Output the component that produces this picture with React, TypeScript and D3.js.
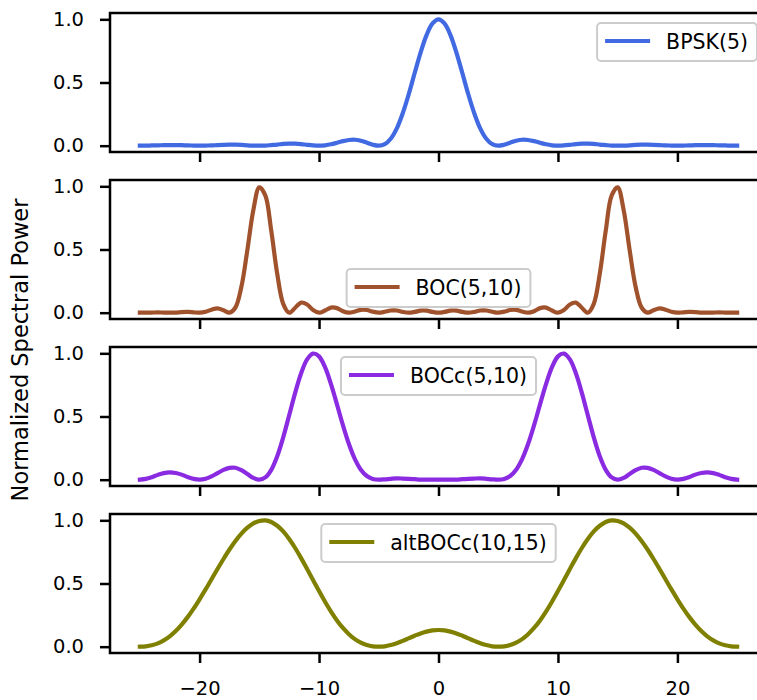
import React, { useEffect, useRef } from 'react';
import * as d3 from 'd3';

const WIDTH = 757;
const HEIGHT = 700;
const FONT = "'DejaVu Sans', sans-serif";

// Frequency offset grid: -25 .. 25 in steps of 0.5
const freqs: number[] = d3.range(-50, 51).map((k) => k / 2);

// Normalized power spectral densities sampled on the grid above
const bpsk5 = [
  0, 0, 0.002, 0.003, 0.004, 0.005, 0.005, 0.004, 0.002, 0.001,
  0, 0.001, 0.002, 0.005, 0.007, 0.008, 0.008, 0.006, 0.003, 0.001,
  0, 0.001, 0.005, 0.009, 0.014, 0.016, 0.016, 0.013, 0.007, 0.002,
  0, 0.003, 0.011, 0.023, 0.036, 0.045, 0.047, 0.039, 0.024, 0.008,
  0, 0.012, 0.055, 0.135, 0.255, 0.405, 0.573, 0.737, 0.875, 0.967,
  1,
  0.967, 0.875, 0.737, 0.573, 0.405, 0.255, 0.135, 0.055, 0.012, 0,
  0.008, 0.024, 0.039, 0.047, 0.045, 0.036, 0.023, 0.011, 0.003, 0,
  0.002, 0.007, 0.013, 0.016, 0.016, 0.014, 0.009, 0.005, 0.001, 0,
  0.001, 0.003, 0.006, 0.008, 0.008, 0.007, 0.005, 0.002, 0.001, 0,
  0.001, 0.002, 0.004, 0.005, 0.005, 0.004, 0.003, 0.002, 0, 0,
];

const boc510 = [
  0, 0, 0.001, 0.002, 0.001, 0, 0.001, 0.005, 0.006, 0.003,
  0, 0.007, 0.024, 0.034, 0.019, 0, 0.041, 0.205, 0.496, 0.812,
  0.992, 0.928, 0.648, 0.307, 0.07, 0, 0.039, 0.08, 0.065, 0.021,
  0, 0.017, 0.04, 0.036, 0.012, 0, 0.009, 0.022, 0.021, 0.008,
  0, 0.007, 0.017, 0.017, 0.006, 0, 0.006, 0.016, 0.016, 0.006,
  0,
  0.006, 0.016, 0.016, 0.006, 0, 0.006, 0.017, 0.017, 0.007, 0,
  0.008, 0.021, 0.022, 0.009, 0, 0.012, 0.036, 0.04, 0.017, 0,
  0.021, 0.065, 0.08, 0.039, 0, 0.07, 0.307, 0.648, 0.928, 0.992,
  0.812, 0.496, 0.205, 0.041, 0, 0.019, 0.034, 0.024, 0.007, 0,
  0.003, 0.006, 0.005, 0.001, 0, 0.001, 0.002, 0.001, 0, 0,
];

const bocc510 = [
  0, 0.006, 0.02, 0.038, 0.052, 0.058, 0.053, 0.04, 0.021, 0.006,
  0, 0.007, 0.026, 0.052, 0.078, 0.094, 0.094, 0.075, 0.045, 0.014,
  0, 0.018, 0.078, 0.186, 0.335, 0.51, 0.687, 0.842, 0.952, 0.998,
  0.976, 0.89, 0.756, 0.596, 0.431, 0.282, 0.163, 0.079, 0.029, 0.006,
  0, 0.003, 0.007, 0.01, 0.009, 0.007, 0.004, 0.001, 0, 0,
  0,
  0, 0, 0.001, 0.004, 0.007, 0.009, 0.01, 0.007, 0.003, 0,
  0.006, 0.029, 0.079, 0.163, 0.282, 0.431, 0.596, 0.756, 0.89, 0.976,
  0.998, 0.952, 0.842, 0.687, 0.51, 0.335, 0.186, 0.078, 0.018, 0,
  0.014, 0.045, 0.075, 0.094, 0.094, 0.078, 0.052, 0.026, 0.007, 0,
  0.006, 0.021, 0.04, 0.053, 0.058, 0.052, 0.038, 0.02, 0.006, 0,
];

const altbocc1015 = [
  0, 0.003, 0.011, 0.026, 0.05, 0.082, 0.124, 0.175, 0.234, 0.301,
  0.375, 0.453, 0.534, 0.615, 0.694, 0.769, 0.837, 0.895, 0.942, 0.976,
  0.995, 1.0, 0.987, 0.957, 0.912, 0.852, 0.781, 0.701, 0.615, 0.527,
  0.44, 0.356, 0.278, 0.208, 0.148, 0.099, 0.06, 0.032, 0.013, 0.003,
  0, 0.003, 0.013, 0.027, 0.046, 0.066, 0.086, 0.105, 0.119, 0.129,
  0.132,
  0.129, 0.119, 0.105, 0.086, 0.066, 0.046, 0.027, 0.013, 0.003, 0,
  0.003, 0.013, 0.032, 0.06, 0.099, 0.148, 0.208, 0.278, 0.356, 0.44,
  0.527, 0.615, 0.701, 0.781, 0.852, 0.912, 0.957, 0.987, 1.0, 0.995,
  0.976, 0.942, 0.895, 0.837, 0.769, 0.694, 0.615, 0.534, 0.453, 0.375,
  0.301, 0.234, 0.175, 0.124, 0.082, 0.05, 0.026, 0.011, 0.003, 0,
];

const seriesValues = [bpsk5, boc510, bocc510, altbocc1015];
const seriesNames = ['BPSK(5)', 'BOC(5,10)', 'BOCc(5,10)', 'altBOCc(10,15)'];
const seriesColors = ['#4169e1', '#a0522d', '#8a2be2', '#808000'];
const legendLocs = ['upper right', 'lower center', 'upper center', 'upper center'];
const xTicks = [-20, -10, 0, 10, 20];
const yTicks = [0, 0.5, 1.0];
const yAxisTitle = 'Normalized Spectral Power';

// Panel geometry
const AX_LEFT = 110;
const AX_RIGHT = 767;
const PANEL_TOP = 13;
const PANEL_STEP = 167;
const PANEL_H = 139;
const TICK_LEN = 10;
const SPINE_W = 2.5;

export default function App() {
  const ref = useRef<SVGSVGElement | null>(null);

  useEffect(() => {
    const svg = d3.select(ref.current);
    svg.selectAll('*').remove();

    const x = d3.scaleLinear().domain([-27.5, 27.5]).range([AX_LEFT, AX_RIGHT]);

    seriesValues.forEach((vals, i) => {
      const top = PANEL_TOP + i * PANEL_STEP;
      const bottom = top + PANEL_H;
      const y = d3.scaleLinear().domain([-0.05, 1.05]).range([bottom, top]);
      const g = svg.append('g');

      const line = d3
        .line<number>()
        .x((_, j) => x(freqs[j]))
        .y((v) => y(v))
        .curve(d3.curveCatmullRom.alpha(0.5));

      g.append('path')
        .attr('d', line(vals) || '')
        .attr('fill', 'none')
        .attr('stroke', seriesColors[i])
        .attr('stroke-width', 4.2)
        .attr('stroke-linecap', 'square')
        .attr('stroke-linejoin', 'round');

      // x axis (labels only on the last panel)
      const isLast = i === seriesValues.length - 1;
      const xAxis = d3
        .axisBottom(x)
        .tickValues(xTicks)
        .tickSize(TICK_LEN)
        .tickPadding(18)
        .tickFormat((d) => (isLast ? d3.format('d')(d as number) : ''));
      const gx = g.append('g').attr('transform', `translate(0,${bottom})`).call(xAxis);
      gx.select('.domain').remove();
      gx.selectAll('.tick line').attr('stroke', '#000').attr('stroke-width', SPINE_W);
      gx.selectAll('.tick text')
        .attr('fill', '#000')
        .attr('font-family', FONT)
        .attr('font-size', 19.5);

      // y axis
      const yAxis = d3
        .axisLeft(y)
        .tickValues(yTicks)
        .tickSize(TICK_LEN)
        .tickPadding(16)
        .tickFormat((d) => d3.format('.1f')(d as number));
      const gy = g.append('g').attr('transform', `translate(${AX_LEFT},0)`).call(yAxis);
      gy.select('.domain').remove();
      gy.selectAll('.tick line').attr('stroke', '#000').attr('stroke-width', SPINE_W);
      gy.selectAll('.tick text')
        .attr('fill', '#000')
        .attr('font-family', FONT)
        .attr('font-size', 19.5);

      // spines
      g.append('rect')
        .attr('x', AX_LEFT)
        .attr('y', top)
        .attr('width', AX_RIGHT - AX_LEFT)
        .attr('height', PANEL_H)
        .attr('fill', 'none')
        .attr('stroke', '#000')
        .attr('stroke-width', SPINE_W);

      // legend
      const lg = g.append('g');
      const box = lg.append('rect');
      const label = lg
        .append('text')
        .text(seriesNames[i])
        .attr('font-family', FONT)
        .attr('font-size', 20.5)
        .attr('fill', '#000');
      const tw = (label.node() as SVGTextElement).getComputedTextLength();
      const bw = 8 + 45 + 16 + tw + 9;
      const bh = 38;
      const cx = (AX_LEFT + AX_RIGHT) / 2;
      let bx = cx - bw / 2;
      let by = top + 10;
      if (legendLocs[i] === 'upper right') bx = AX_RIGHT - 10 - bw;
      if (legendLocs[i] === 'lower center') by = bottom - 12 - bh;
      box
        .attr('x', bx)
        .attr('y', by)
        .attr('width', bw)
        .attr('height', bh)
        .attr('rx', 4)
        .attr('fill', '#fff')
        .attr('fill-opacity', 0.8)
        .attr('stroke', '#cccccc')
        .attr('stroke-width', 2);
      lg.append('line')
        .attr('x1', bx + 8)
        .attr('x2', bx + 53)
        .attr('y1', by + bh / 2 - 1)
        .attr('y2', by + bh / 2 - 1)
        .attr('stroke', seriesColors[i])
        .attr('stroke-width', 4.2);
      label.attr('x', bx + 69).attr('y', by + bh / 2 + 7).raise();
    });

    svg
      .append('text')
      .attr('transform', `translate(20,${HEIGHT / 2}) rotate(-90)`)
      .attr('text-anchor', 'middle')
      .attr('dominant-baseline', 'central')
      .attr('font-family', FONT)
      .attr('font-size', 22.5)
      .attr('fill', '#000')
      .text(yAxisTitle);
  }, []);

  return (
    <svg
      ref={ref}
      width={WIDTH}
      height={HEIGHT}
      style={{ position: 'absolute', left: 0, top: 0, background: '#fff' }}
    />
  );
}
